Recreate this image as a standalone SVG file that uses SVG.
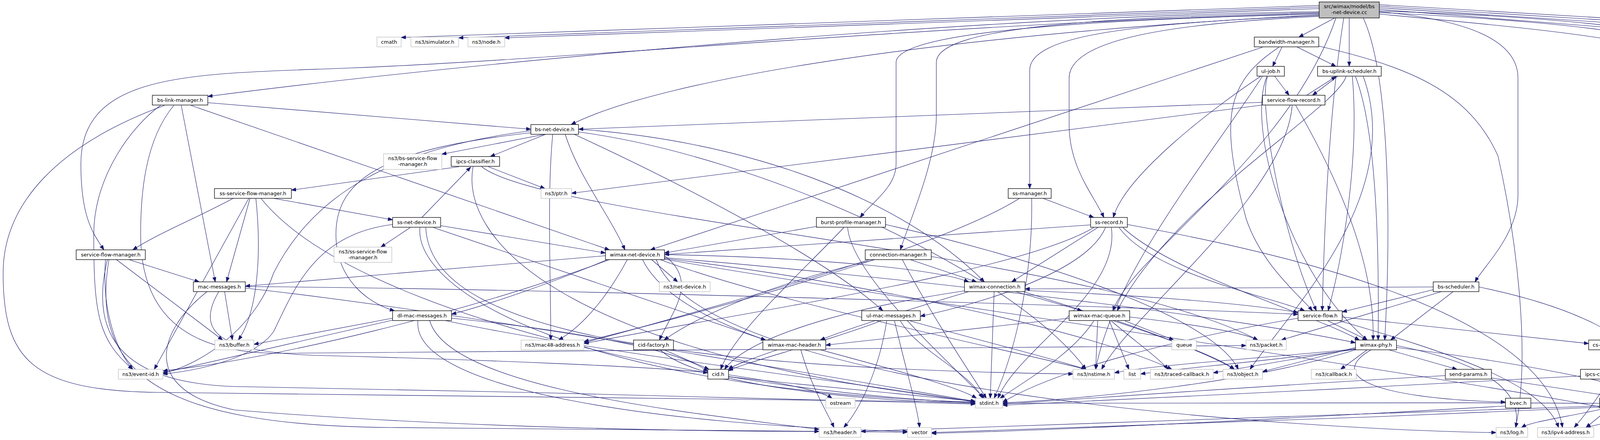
<svg xmlns="http://www.w3.org/2000/svg" width="5144" height="1127" viewBox="0 0 5144 1127">
<defs>
<marker id="a" markerUnits="userSpaceOnUse" markerWidth="13" markerHeight="10" refX="12" refY="4.5" orient="auto"><path d="M0,0 L12,4.5 L0,9 Z" fill="#191970" stroke="#191970" stroke-width="1"/></marker>
</defs>
<style>
.n rect{fill:#fff;stroke:#000;stroke-width:1.3}
.x rect{fill:#fff;stroke:#bfbfbf;stroke-width:1.3}
.r rect{fill:#bfbfbf;stroke:#000;stroke-width:1.3}
text{font-family:"DejaVu Sans","Liberation Sans",sans-serif;font-size:13px;text-anchor:middle;fill:#000}
#edges path{fill:none;stroke:#191970;stroke-width:1.1;marker-end:url(#a)}
</style>
<rect width="5144" height="1127" fill="#fff"/>
<g id="edges">
<path d="M3377,14 L1027,96"/>
<path d="M3377,18 L1174,97"/>
<path d="M3377,22 L1292,97"/>
<path d="M3417,46 L3325,95"/>
<path d="M3454,46 L3454,170"/>
<path d="M3377,30 C2500,40 1200,160 532,247"/>
<path d="M3377,34 C2400,60 1500,150 900,174 C500,190 207,180 207,420 C207,560 240,600 266,640"/>
<path d="M3377,38 C2400,90 1700,200 1462,319"/>
<path d="M3377,40 C2900,60 2636,90 2636,180 L2636,483"/>
<path d="M3377,36 C2800,50 2294,80 2294,160 L2294,420 C2294,480 2230,520 2202,557"/>
<path d="M3377,32 C2800,45 2397,70 2397,160 L2397,300 C2395,420 2330,560 2305,640"/>
<path d="M3377,42 C3000,60 2737,100 2737,200 L2737,320 C2737,430 2800,500 2826,557"/>
<path d="M3490,46 C3560,200 3560,600 3545,871"/>
<path d="M3440,46 C3400,300 3390,600 3385,796"/>
<path d="M3531,30 C3750,50 3886,100 3886,200 L3886,500 C3886,600 3800,680 3776,722"/>
<path d="M3420,46 C3300,400 2900,650 2849,796"/>
<path d="M3531,36 C4000,80 4354,110 4354,200 L4354,900 C4354,960 4320,1000 4306,1020"/>
<path d="M3531,32 C4100,60 4405,100 4405,200 L4405,990 C4405,1040 4200,1060 4060,1095"/>
<path d="M3531,28 C4200,50 4456,100 4456,200 L4456,1000 C4456,1040 4420,1070 4392,1095"/>
<path d="M3531,24 L4494,100"/>
<path d="M3531,20 L4723,97"/>
<path d="M3531,16 L4854,97"/>
<path d="M3531,12 L4976,97"/>
<path d="M3282,120 L3258,170"/>
<path d="M3320,120 L3420,170"/>
<path d="M3232,121 L1665,640"/>
<path d="M3274,121 C3140,210 3120,300 3190,560 C3230,680 3330,760 3360,796"/>
<path d="M3376,118 C3600,170 3760,230 3835,400 C3880,600 3920,900 3880,1095"/>
<path d="M3228,195 C3100,280 2880,450 2850,557"/>
<path d="M3263,195 L3300,244"/>
<path d="M3245,196 C3220,260 3280,600 3370,796"/>
<path d="M3243,196 C3190,330 3300,700 3500,871"/>
<path d="M3232,195 C3100,400 2850,700 2805,946"/>
<path d="M3425,195 L3360,244"/>
<path d="M3345,244 L3420,196"/>
<path d="M3446,196 C3420,280 3000,520 2860,796"/>
<path d="M3462,196 C3480,400 3440,650 3400,796"/>
<path d="M3470,196 C3530,350 3530,700 3528,871"/>
<path d="M3490,196 C3600,500 3300,800 3200,946"/>
<path d="M3232,262 L1481,331"/>
<path d="M3232,269 L1463,495"/>
<path d="M3308,270 C3290,500 2900,800 2820,946"/>
<path d="M3317,270 C3450,500 3520,700 3515,871"/>
<path d="M532,263 L1359,331"/>
<path d="M489,270 L1560,640"/>
<path d="M464,270 L551,722"/>
<path d="M411,270 C340,320 240,450 240,600 C240,800 250,870 340,946"/>
<path d="M421,270 C150,370 8,520 8,700 C8,920 80,1000 400,1005 L2497,1030"/>
<path d="M445,270 C370,360 360,500 360,600 C360,800 470,900 700,905 L3190,885"/>
<path d="M1395,344 L1131,395"/>
<path d="M1397,344 L1255,401"/>
<path d="M1447,344 C1480,450 1560,550 1600,640"/>
<path d="M1359,335 C1000,380 800,500 700,700 C650,850 500,940 417,955"/>
<path d="M1481,331 C1900,360 2300,500 2520,722"/>
<path d="M1481,338 C1950,400 2600,700 2780,946"/>
<path d="M1415,344 C1400,500 1410,700 1410,871"/>
<path d="M1359,340 C1000,380 860,450 860,600 C860,720 950,780 1010,796"/>
<path d="M1470,344 C1700,450 2100,650 2260,796"/>
<path d="M1175,427 L746,487"/>
<path d="M1250,427 L1395,483"/>
<path d="M1233,427 C1400,560 2800,650 3220,871"/>
<path d="M1211,427 C1180,600 1400,900 2497,1028"/>
<path d="M1080,557 L1205,428"/>
<path d="M597,508 C500,560 400,600 340,640"/>
<path d="M640,508 L580,722"/>
<path d="M655,508 C670,650 660,800 610,871"/>
<path d="M637,508 L395,946"/>
<path d="M700,508 L1005,563"/>
<path d="M668,508 C900,800 1800,1000 2497,1032"/>
<path d="M330,665 L510,722"/>
<path d="M298,665 L570,871"/>
<path d="M270,665 C260,800 300,900 340,946"/>
<path d="M275,665 C230,850 300,980 600,990 C1200,1000 2000,1020 2497,1035"/>
<path d="M279,665 C230,950 400,1090 1000,1095 C1600,1100 2100,1107 2323,1107"/>
<path d="M1050,583 L975,633"/>
<path d="M1005,575 C800,600 750,750 700,850 C650,920 500,950 417,958"/>
<path d="M1128,578 L1550,648"/>
<path d="M1110,583 L1960,871"/>
<path d="M1090,583 C1100,800 1500,940 2747,958"/>
<path d="M1075,583 C1060,750 1500,1000 2497,1030"/>
<path d="M2090,580 L1701,648"/>
<path d="M2170,583 C2180,700 2400,900 2520,1020"/>
<path d="M2160,583 C2050,700 1880,850 1845,946"/>
<path d="M2267,575 C2600,650 3100,800 3170,946"/>
<path d="M2670,508 L2800,557"/>
<path d="M2641,508 C2645,700 2600,900 2545,1020"/>
<path d="M2610,508 C2400,640 1800,800 1495,875"/>
<path d="M2792,576 L1701,652"/>
<path d="M2810,583 L2590,722"/>
<path d="M2830,583 C2780,700 2500,780 2356,810"/>
<path d="M2845,583 C2870,750 2600,900 2555,1020"/>
<path d="M2865,583 C2950,700 3250,760 3340,796"/>
<path d="M2875,583 C3000,700 3350,800 3480,871"/>
<path d="M2886,575 C3300,650 3950,800 4000,1095"/>
<path d="M2800,583 C2600,700 1900,800 1495,880"/>
<path d="M2330,665 L2500,722"/>
<path d="M2310,665 C2380,800 2480,950 2525,1020"/>
<path d="M2240,665 C2000,720 1800,800 1700,871"/>
<path d="M2225,665 C2000,740 1600,850 1495,878"/>
<path d="M1550,655 L628,733"/>
<path d="M1668,665 L1735,722"/>
<path d="M1606,665 C1560,750 1500,830 1430,871"/>
<path d="M1701,652 C2100,660 2400,690 2480,722"/>
<path d="M1701,660 C2200,700 3100,800 3470,878"/>
<path d="M1645,665 C1700,780 1900,850 1960,871"/>
<path d="M1560,665 C1200,800 700,920 417,950"/>
<path d="M1701,662 C2200,720 2800,850 3000,946"/>
<path d="M1690,665 C2000,780 2600,900 2780,946"/>
<path d="M1680,665 C1800,1000 3300,1100 3830,1108"/>
<path d="M1701,664 C2500,800 4000,1000 4340,1095"/>
<path d="M1701,655 C1790,720 1720,800 1688,871"/>
<path d="M1555,665 C1400,730 1250,780 1156,805"/>
<path d="M2600,747 L2770,796"/>
<path d="M2545,747 L2535,1020"/>
<path d="M2624,744 C3000,760 3200,780 3323,800"/>
<path d="M2469,745 C2100,800 1900,880 1855,946"/>
<path d="M2620,747 C2850,820 3100,900 3160,946"/>
<path d="M2480,747 C2300,800 2150,850 2100,871"/>
<path d="M3669,742 L3436,799"/>
<path d="M3690,747 L3280,871"/>
<path d="M3720,747 L3560,871"/>
<path d="M3669,735 L2624,740"/>
<path d="M3786,735 C4000,780 4200,850 4290,1020"/>
<path d="M2305,822 C2350,900 2480,950 2515,1020"/>
<path d="M2270,822 C2250,950 2200,1050 2160,1095"/>
<path d="M2290,822 C2320,950 2350,1050 2354,1095"/>
<path d="M2255,822 C2100,880 1900,930 1865,950"/>
<path d="M2330,822 C2500,870 2700,920 2780,946"/>
<path d="M2880,822 L3005,871"/>
<path d="M2810,822 L2805,946"/>
<path d="M2845,822 C2900,870 2970,920 2990,946"/>
<path d="M2800,822 C2750,900 2650,960 2560,1020"/>
<path d="M2737,815 L2114,884"/>
<path d="M2892,812 C3050,830 3180,850 3220,871"/>
<path d="M2860,822 C3000,870 3120,920 3160,946"/>
<path d="M2840,822 L2890,946"/>
<path d="M1005,815 L650,882"/>
<path d="M1140,821 C1500,900 2200,980 2497,1030"/>
<path d="M1100,821 C1150,1000 1800,1060 2097,1100"/>
<path d="M1070,821 C1050,1000 1700,1090 2323,1105"/>
<path d="M1156,815 C1500,850 1750,900 1812,952"/>
<path d="M1005,820 L417,955"/>
<path d="M575,747 L595,871"/>
<path d="M628,738 C1200,800 2200,980 2497,1028"/>
<path d="M530,747 C400,850 360,1000 600,1050 C1200,1100 1900,1105 2097,1105"/>
<path d="M560,747 C500,850 560,900 800,910 C1200,920 1700,940 1812,955"/>
<path d="M628,734 C1500,740 3000,790 3323,805"/>
<path d="M3400,822 L3500,871"/>
<path d="M3436,812 L4067,880"/>
<path d="M3323,815 C3000,870 2700,950 2567,1030"/>
<path d="M3430,822 C3700,900 3950,980 3990,1095"/>
<path d="M3555,896 L3730,946"/>
<path d="M3500,896 L3432,946"/>
<path d="M3470,890 L3232,952"/>
<path d="M3470,893 L3106,955"/>
<path d="M3510,896 C3400,960 3500,1020 3854,1030"/>
<path d="M3575,885 C3800,930 3900,1000 3880,1095"/>
<path d="M3470,894 C3200,920 2950,935 2853,955"/>
<path d="M3470,895 C3200,930 3000,945 2920,958"/>
<path d="M3470,896 C3200,980 2800,1020 2567,1032"/>
<path d="M3575,890 C3900,930 4150,980 4240,1020"/>
<path d="M3700,962 C3200,990 2800,1020 2567,1035"/>
<path d="M3818,968 L4225,1030"/>
<path d="M4130,896 L4130,946"/>
<path d="M4160,896 C4200,930 4220,990 4180,1020"/>
<path d="M4135,971 L4140,1020"/>
<path d="M4120,971 C4090,1020 4060,1060 4030,1095"/>
<path d="M4046,963 C3600,990 2900,1020 2567,1038"/>
<path d="M4148,1046 L4152,1095"/>
<path d="M4165,1046 L4240,1095"/>
<path d="M4180,1046 L4330,1095"/>
<path d="M4110,1046 C4000,1070 3920,1080 3895,1095"/>
<path d="M4120,1046 L4060,1095"/>
<path d="M4095,1040 C3500,1060 2600,1090 2204,1105"/>
<path d="M4095,1043 C3500,1070 2700,1100 2385,1108"/>
<path d="M4095,1033 C3500,1030 2800,1030 2567,1033"/>
<path d="M2050,896 C2080,1000 2120,1060 2135,1095"/>
<path d="M2100,896 C2300,950 2450,990 2500,1020"/>
<path d="M1990,896 C1920,920 1880,935 1865,946"/>
<path d="M1700,896 L1815,946"/>
<path d="M1690,896 C1800,1000 2300,1030 2497,1033"/>
<path d="M1865,965 C2100,990 2400,1020 2497,1028"/>
<path d="M1865,960 C2000,980 2100,1000 2130,1020"/>
<path d="M3854,1040 C3500,1060 2800,1100 2385,1110"/>
</g>
<g id="n-root" class="r"><rect x="3377" y="5" width="154" height="41"/><text x="3454" y="21">src/wimax/model/bs</text><text x="3454" y="36">-net-device.cc</text></g>
<g id="n-cmath" class="x"><rect x="965" y="95" width="62" height="25"/><text x="996" y="112">cmath</text></g>
<g id="n-simulator" class="x"><rect x="1052" y="95" width="122" height="25"/><text x="1113" y="112">ns3/simulator.h</text></g>
<g id="n-node" class="x"><rect x="1198" y="95" width="94" height="25"/><text x="1245" y="112">ns3/node.h</text></g>
<g id="n-bandwidth" class="n"><rect x="3211" y="95" width="165" height="25"/><text x="3293.5" y="112">bandwidth-manager.h</text></g>
<g id="n-tsa" class="x"><rect x="4494" y="95" width="204" height="25"/><text x="4596" y="112">ns3/trace-source-accessor.h</text></g>
<g id="n-pointer" class="x"><rect x="4723" y="95" width="106" height="25"/><text x="4776" y="112">ns3/pointer.h</text></g>
<g id="n-enum" class="x"><rect x="4854" y="95" width="97" height="25"/><text x="4902.5" y="112">ns3/enum.h</text></g>
<g id="n-llc" class="x"><rect x="4976" y="95" width="162" height="25"/><text x="5057" y="112">ns3/llc-snap-header.h</text></g>
<g id="n-uljob" class="n"><rect x="3218" y="170" width="70" height="25"/><text x="3253" y="187">ul-job.h</text></g>
<g id="n-bsuplink" class="n"><rect x="3373" y="170" width="163" height="25"/><text x="3454.5" y="187">bs-uplink-scheduler.h</text></g>
<g id="n-bslink" class="n"><rect x="390" y="244" width="142" height="25"/><text x="461" y="261">bs-link-manager.h</text></g>
<g id="n-sfrecord" class="n"><rect x="3232" y="244" width="160" height="25"/><text x="3312" y="261">service-flow-record.h</text></g>
<g id="n-bsnetdev" class="n"><rect x="1359" y="319" width="122" height="25"/><text x="1420" y="336">bs-net-device.h</text></g>
<g id="n-bssfmgr" class="x"><rect x="982" y="394" width="149" height="40"/><text x="1056.5" y="410">ns3/bs-service-flow</text><text x="1056.5" y="425">-manager.h</text></g>
<g id="n-ipcs" class="n"><rect x="1155" y="401" width="124" height="25"/><text x="1217" y="418">ipcs-classifier.h</text></g>
<g id="n-sssfmgr" class="n"><rect x="549" y="483" width="197" height="25"/><text x="647.5" y="500">ss-service-flow-manager.h</text></g>
<g id="n-ptr" class="x"><rect x="1385" y="483" width="78" height="25"/><text x="1424" y="500">ns3/ptr.h</text></g>
<g id="n-ssmgr" class="n"><rect x="2581" y="483" width="110" height="25"/><text x="2636" y="500">ss-manager.h</text></g>
<g id="n-ssnetdev" class="n"><rect x="1005" y="557" width="123" height="25"/><text x="1066.5" y="574">ss-net-device.h</text></g>
<g id="n-burst" class="n"><rect x="2090" y="557" width="177" height="25"/><text x="2178.5" y="574">burst-profile-manager.h</text></g>
<g id="n-ssrecord" class="n"><rect x="2792" y="557" width="94" height="25"/><text x="2839" y="574">ss-record.h</text></g>
<g id="n-sfmgr" class="n"><rect x="195" y="640" width="177" height="25"/><text x="283.5" y="657">service-flow-manager.h</text></g>
<g id="n-nsssfmgr" class="x"><rect x="855" y="633" width="148" height="39"/><text x="929" y="649">ns3/ss-service-flow</text><text x="929" y="664">-manager.h</text></g>
<g id="n-wnetdev" class="n"><rect x="1550" y="640" width="151" height="25"/><text x="1625.5" y="657">wimax-net-device.h</text></g>
<g id="n-connmgr" class="n"><rect x="2215" y="640" width="169" height="25"/><text x="2299.5" y="657">connection-manager.h</text></g>
<g id="n-macmsg" class="n"><rect x="495" y="722" width="133" height="25"/><text x="561.5" y="739">mac-messages.h</text></g>
<g id="n-netdevice" class="x"><rect x="1688" y="722" width="130" height="25"/><text x="1753" y="739">ns3/net-device.h</text></g>
<g id="n-wconn" class="n"><rect x="2469" y="722" width="155" height="25"/><text x="2546.5" y="739">wimax-connection.h</text></g>
<g id="n-bssched" class="n"><rect x="3669" y="722" width="117" height="25"/><text x="3727.5" y="739">bs-scheduler.h</text></g>
<g id="n-dlmac" class="n"><rect x="1005" y="796" width="151" height="25"/><text x="1080.5" y="813">dl-mac-messages.h</text></g>
<g id="n-ulmac" class="n"><rect x="2206" y="796" width="150" height="25"/><text x="2281" y="813">ul-mac-messages.h</text></g>
<g id="n-macqueue" class="n"><rect x="2737" y="796" width="155" height="25"/><text x="2814.5" y="813">wimax-mac-queue.h</text></g>
<g id="n-sf" class="n"><rect x="3323" y="796" width="113" height="25"/><text x="3379.5" y="813">service-flow.h</text></g>
<g id="n-buffer" class="x"><rect x="550" y="871" width="100" height="25"/><text x="600" y="888">ns3/buffer.h</text></g>
<g id="n-mac48" class="x"><rect x="1334" y="871" width="161" height="25"/><text x="1414.5" y="888">ns3/mac48-address.h</text></g>
<g id="n-cidfactory" class="n"><rect x="1622" y="871" width="102" height="25"/><text x="1673" y="888">cid-factory.h</text></g>
<g id="n-macheader" class="n"><rect x="1953" y="871" width="161" height="25"/><text x="2033.5" y="888">wimax-mac-header.h</text></g>
<g id="n-queue" class="x"><rect x="3000" y="871" width="63" height="25"/><text x="3031.5" y="888">queue</text></g>
<g id="n-packet" class="x"><rect x="3190" y="871" width="103" height="25"/><text x="3241.5" y="888">ns3/packet.h</text></g>
<g id="n-phy" class="n"><rect x="3470" y="871" width="105" height="25"/><text x="3522.5" y="888">wimax-phy.h</text></g>
<g id="n-csparam" class="n"><rect x="4067" y="871" width="127" height="25"/><text x="4130.5" y="888">cs-parameters.h</text></g>
<g id="n-eventid" class="x"><rect x="303" y="946" width="114" height="25"/><text x="360" y="963">ns3/event-id.h</text></g>
<g id="n-cid" class="n"><rect x="1812" y="946" width="53" height="25"/><text x="1838.5" y="963">cid.h</text></g>
<g id="n-nstime" class="x"><rect x="2747" y="946" width="106" height="25"/><text x="2800" y="963">ns3/nstime.h</text></g>
<g id="n-list" class="x"><rect x="2877" y="946" width="43" height="25"/><text x="2898.5" y="963">list</text></g>
<g id="n-tracedcb" class="x"><rect x="2945" y="946" width="161" height="25"/><text x="3025.5" y="963">ns3/traced-callback.h</text></g>
<g id="n-object" class="x"><rect x="3131" y="946" width="101" height="25"/><text x="3181.5" y="963">ns3/object.h</text></g>
<g id="n-callback" class="x"><rect x="3357" y="946" width="115" height="25"/><text x="3414.5" y="963">ns3/callback.h</text></g>
<g id="n-sendparams" class="n"><rect x="3700" y="946" width="118" height="25"/><text x="3759" y="963">send-params.h</text></g>
<g id="n-ipcsrec" class="n"><rect x="4046" y="946" width="169" height="25"/><text x="4130.5" y="963">ipcs-classifier-record.h</text></g>
<g id="n-ostream" class="x"><rect x="2114" y="1020" width="75" height="25"/><text x="2151.5" y="1037">ostream</text></g>
<g id="n-stdint" class="x"><rect x="2497" y="1020" width="70" height="25"/><text x="2532" y="1037">stdint.h</text></g>
<g id="n-bvec" class="n"><rect x="3854" y="1020" width="65" height="25"/><text x="3886.5" y="1037">bvec.h</text></g>
<g id="n-tlv" class="n"><rect x="4095" y="1020" width="99" height="25"/><text x="4144.5" y="1037">wimax-tlv.h</text></g>
<g id="n-pburst" class="x"><rect x="4225" y="1020" width="142" height="25"/><text x="4296" y="1037">ns3/packet-burst.h</text></g>
<g id="n-header" class="x"><rect x="2097" y="1095" width="107" height="25"/><text x="2150.5" y="1112">ns3/header.h</text></g>
<g id="n-vector" class="x"><rect x="2323" y="1095" width="62" height="25"/><text x="2354" y="1112">vector</text></g>
<g id="n-log" class="x"><rect x="3830" y="1095" width="81" height="25"/><text x="3870.5" y="1112">ns3/log.h</text></g>
<g id="n-ipv4" class="x"><rect x="3936" y="1095" width="144" height="25"/><text x="4008" y="1112">ns3/ipv4-address.h</text></g>
<g id="n-assert" class="x"><rect x="4105" y="1095" width="101" height="25"/><text x="4155.5" y="1112">ns3/assert.h</text></g>
<g id="n-cstdlib" class="x"><rect x="4231" y="1095" width="65" height="25"/><text x="4263.5" y="1112">cstdlib</text></g>
<g id="n-uint" class="x"><rect x="4321" y="1095" width="115" height="25"/><text x="4378.5" y="1112">ns3/uinteger.h</text></g>
</svg>
